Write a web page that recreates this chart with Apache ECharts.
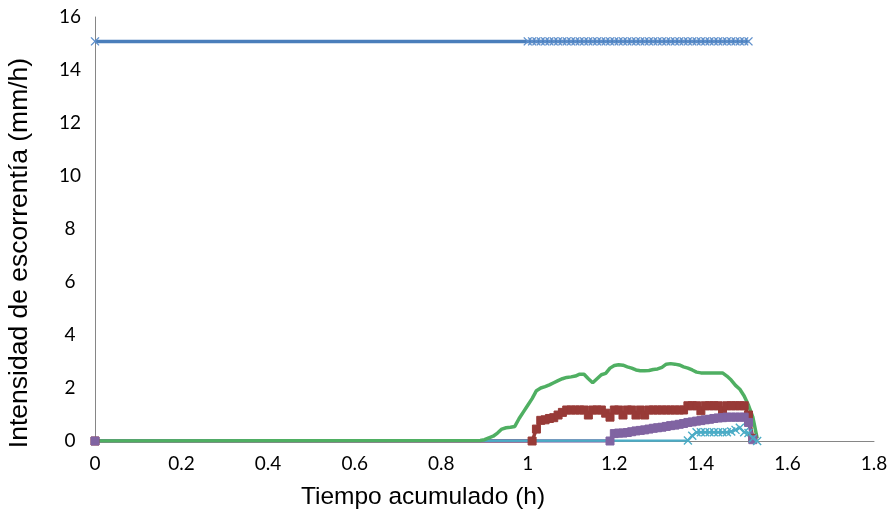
<!DOCTYPE html>
<html>
<head>
<meta charset="utf-8">
<script src="https://cdn.jsdelivr.net/npm/echarts@6/dist/echarts.min.js"></script>
<style>
html,body{margin:0;padding:0;background:#fff;}
#chart{width:894px;height:527px;}
</style>
</head>
<body>
<div id="chart"></div>
<script>
// Tick values
const xTicks = [0, 0.2, 0.4, 0.6, 0.8, 1, 1.2, 1.4, 1.6, 1.8];
const yTicks = [0, 2, 4, 6, 8, 10, 12, 14, 16];

// Series data: [tiempo (h), intensidad (mm/h)]
const azul = [[0,15.08],[1.00,15.08],[1.01,15.08],[1.02,15.08],[1.03,15.08],[1.04,15.08],[1.05,15.08],[1.06,15.08],[1.07,15.08],[1.08,15.08],[1.09,15.08],[1.10,15.08],[1.11,15.08],[1.12,15.08],[1.13,15.08],[1.14,15.08],[1.15,15.08],[1.16,15.08],[1.17,15.08],[1.18,15.08],[1.19,15.08],[1.20,15.08],[1.21,15.08],[1.22,15.08],[1.23,15.08],[1.24,15.08],[1.25,15.08],[1.26,15.08],[1.27,15.08],[1.28,15.08],[1.29,15.08],[1.30,15.08],[1.31,15.08],[1.32,15.08],[1.33,15.08],[1.34,15.08],[1.35,15.08],[1.36,15.08],[1.37,15.08],[1.38,15.08],[1.39,15.08],[1.40,15.08],[1.41,15.08],[1.42,15.08],[1.43,15.08],[1.44,15.08],[1.45,15.08],[1.46,15.08],[1.47,15.08],[1.48,15.08],[1.49,15.08],[1.50,15.08],[1.51,15.08]];

const rojo = [[0,0],[1.01,0],[1.02,0.45],[1.03,0.78],[1.04,0.8],[1.05,0.85],[1.06,0.88],[1.07,0.98],[1.08,1.08],[1.09,1.17],[1.10,1.17],[1.11,1.17],[1.12,1.17],[1.13,1.17],[1.14,0.98],[1.15,1.17],[1.16,1.17],[1.17,1.17],[1.18,1.05],[1.19,0.9],[1.20,1.17],[1.21,1.17],[1.22,0.98],[1.23,1.17],[1.24,1.17],[1.25,0.98],[1.26,1.17],[1.27,0.98],[1.28,1.17],[1.29,1.17],[1.30,1.17],[1.31,1.17],[1.32,1.17],[1.33,1.17],[1.34,1.17],[1.35,1.17],[1.36,1.17],[1.37,1.33],[1.38,1.33],[1.39,1.33],[1.40,1.14],[1.41,1.33],[1.42,1.33],[1.43,1.33],[1.44,1.33],[1.45,1.14],[1.46,1.33],[1.47,1.33],[1.48,1.33],[1.49,1.33],[1.50,1.33],[1.51,0.98],[1.52,0.1]];

const morado = [[0,0],[1.19,0],[1.20,0.28],[1.21,0.3],[1.22,0.3],[1.23,0.32],[1.24,0.35],[1.25,0.38],[1.26,0.4],[1.27,0.42],[1.28,0.45],[1.29,0.48],[1.30,0.5],[1.31,0.52],[1.32,0.55],[1.33,0.58],[1.34,0.6],[1.35,0.63],[1.36,0.66],[1.37,0.7],[1.38,0.72],[1.39,0.75],[1.40,0.77],[1.41,0.8],[1.42,0.82],[1.43,0.85],[1.44,0.87],[1.45,0.88],[1.46,0.9],[1.47,0.9],[1.48,0.9],[1.49,0.9],[1.50,0.9],[1.51,0.7],[1.52,0.05]];

const cian = [[0,0],[1.37,0.02],[1.38,0.2],[1.39,0.33],[1.40,0.33],[1.41,0.33],[1.42,0.33],[1.43,0.33],[1.44,0.33],[1.45,0.33],[1.46,0.33],[1.47,0.36],[1.48,0.42],[1.49,0.5],[1.50,0.33],[1.51,0.3],[1.52,0.1],[1.53,0]];

const verde = [[0,0],[0.89,0.02],[0.90,0.05],[0.91,0.12],[0.92,0.18],[0.93,0.3],[0.94,0.45],[0.95,0.5],[0.96,0.52],[0.97,0.55],[0.98,0.85],[0.99,1.1],[1.00,1.35],[1.01,1.6],[1.02,1.9],[1.03,2.0],[1.04,2.05],[1.05,2.12],[1.06,2.2],[1.07,2.28],[1.08,2.35],[1.09,2.4],[1.10,2.42],[1.11,2.45],[1.12,2.52],[1.13,2.52],[1.14,2.35],[1.15,2.2],[1.16,2.35],[1.17,2.5],[1.18,2.55],[1.19,2.75],[1.20,2.85],[1.21,2.88],[1.22,2.86],[1.23,2.8],[1.24,2.75],[1.25,2.68],[1.26,2.65],[1.27,2.65],[1.28,2.66],[1.29,2.7],[1.30,2.72],[1.31,2.78],[1.32,2.9],[1.33,2.92],[1.34,2.9],[1.35,2.87],[1.36,2.8],[1.37,2.75],[1.38,2.68],[1.39,2.6],[1.40,2.57],[1.41,2.57],[1.42,2.57],[1.43,2.57],[1.44,2.57],[1.45,2.57],[1.46,2.45],[1.47,2.3],[1.48,2.1],[1.49,1.95],[1.50,1.7],[1.51,1.35],[1.52,0.9],[1.53,0.1]];

const xTitle = 'Tiempo acumulado (h)';
const yTitle = 'Intensidad de escorrentía (mm/h)';

const chart = echarts.init(document.getElementById('chart'), null, {renderer: 'canvas'});
const xSym = 'path://M0,0L10,10M10,0L0,10';
const axisColor = '#868686';
const labelFont = 'Lato, "Open Sans", sans-serif';

function lineSeries(data, color, opts) {
  return Object.assign({
    type: 'line',
    data: data,
    showAllSymbol: true,
    animation: false,
    silent: true,
    lineStyle: {color: color, width: 3.5},
    itemStyle: {color: color, borderColor: color},
    emphasis: {disabled: true}
  }, opts);
}

const option = {
  animation: false,
  backgroundColor: '#ffffff',
  grid: {left: 95, right: 20, top: 17, bottom: 86, containLabel: false},
  xAxis: {
    type: 'value', min: xTicks[0], max: xTicks[xTicks.length - 1], interval: 0.2,
    axisLine: {show: true, lineStyle: {color: axisColor, width: 1}},
    axisTick: {show: false},
    splitLine: {show: false},
    axisLabel: {color: '#000', fontSize: 19, fontFamily: labelFont, margin: 13}
  },
  yAxis: {
    type: 'value', min: yTicks[0], max: yTicks[yTicks.length - 1], interval: 2,
    axisLine: {show: true, lineStyle: {color: axisColor, width: 1}},
    axisTick: {show: false},
    splitLine: {show: false},
    axisLabel: {color: '#000', fontSize: 19, fontFamily: labelFont, margin: 25, align: 'center'}
  },
  graphic: [
    {type: 'text', x: 423, y: 497, style: {text: xTitle, font: '24.5px "Liberation Sans", Arial, sans-serif', fill: '#000', textAlign: 'center', textVerticalAlign: 'middle'}},
    {type: 'text', x: 20, y: 253, rotation: Math.PI / 2, style: {text: yTitle, font: '26.5px "Liberation Sans", Arial, sans-serif', fill: '#000', textAlign: 'center', textVerticalAlign: 'middle'}}
  ],
  series: [
    lineSeries(azul, '#4A7EBB', {symbol: xSym, symbolSize: 8, itemStyle: {color: '#4A7EBB', borderColor: '#5E8FCB', borderWidth: 1.4}}),
    lineSeries(rojo, '#983A37', {symbol: 'rect', symbolSize: 8}),
    lineSeries(morado, '#8064A2', {symbol: 'rect', symbolSize: 8}),
    lineSeries(cian.map((p, i) => i === 0 ? {value: p, symbol: 'none'} : p), '#4BACC6', {symbol: xSym, symbolSize: 8, lineStyle: {color: '#4BACC6', width: 2.5}, itemStyle: {color: '#4BACC6', borderColor: '#4BACC6', borderWidth: 1.4}}),
    lineSeries(verde, '#4FAF62', {symbol: 'none'})
  ]
};
chart.setOption(option);
</script>
</body>
</html>
